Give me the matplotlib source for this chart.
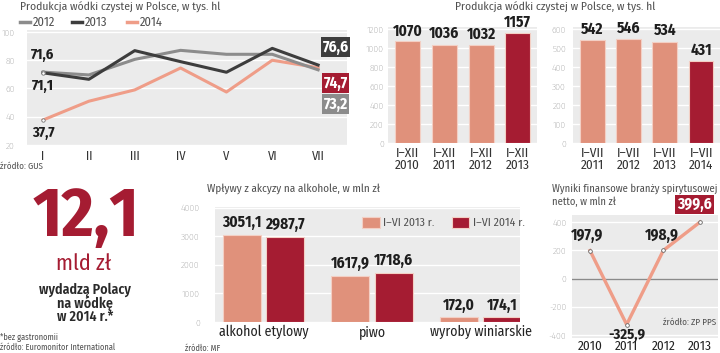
import matplotlib
matplotlib.use("Agg")
import matplotlib.pyplot as plt
from matplotlib.patches import Rectangle

# ---------------- data ----------------
months = ["I", "II", "III", "IV", "V", "VI", "VII"]
prod_2012 = [71.6, 69.6, 80.6, 87.0, 84.2, 84.2, 73.2]
prod_2013 = [71.1, 66.5, 86.8, 79.0, 71.5, 88.4, 76.6]
prod_2014 = [37.7, 51.0, 59.0, 74.5, 57.5, 80.0, 74.7]

annual_labels = ["I–XII\n2010", "I–XII\n2011", "I–XII\n2012", "I–XII\n2013"]
annual_values = [1070, 1036, 1032, 1157]

h1_labels = ["I–VII\n2011", "I–VII\n2012", "I–VII\n2013", "I–VII\n2014"]
h1_values = [542, 546, 534, 431]

excise_cats = ["alkohol etylowy", "piwo", "wyroby winiarskie"]
excise_2013 = [3051.1, 1617.9, 172.0]
excise_2014 = [2987.7, 1718.6, 174.1]

fin_years = ["2010", "2011", "2012", "2013"]
fin_values = [197.9, -325.9, 198.9, 399.6]

# ---------------- style ----------------
W, H = 720, 353
BG = "#ebebeb"
SALMON = "#e0917b"
RED = "#a51c32"
LGRAY = "#8c8c8c"
DGRAY = "#3d3d3d"
LINE_SAL = "#ef9d88"
TXT = "#333333"
TICK = "#666666"
TITLE = "#505050"
NARROW = ["Fira Sans Condensed", "Roboto Condensed", "Saira Condensed", "DejaVu Sans"]
LIGHT = ["Fira Sans Condensed", "Roboto Condensed", "Roboto", "DejaVu Sans"]

fig = plt.figure(figsize=(W / 100, H / 100), dpi=100)
fig.patch.set_facecolor("white")


def ax_px(x0, y0, x1, y1):
    return fig.add_axes([x0 / W, 1 - y1 / H, (x1 - x0) / W, (y1 - y0) / H])


def ftext(x, y, s, **kw):
    return fig.text(x / W, 1 - y / H, s, **kw)


def style_ax(ax):
    ax.set_facecolor(BG)
    for sp in ax.spines.values():
        sp.set_visible(False)
    ax.grid(axis="y", color="white", lw=1.0)
    ax.set_axisbelow(True)
    ax.tick_params(length=0)


def set_light(labels):
    for lab in labels:
        lab.set_family(LIGHT)
        lab.set_fontweight("light")


def nice(v):
    return f"{v:.1f}".replace(".", ",")


BOLD = dict(fontweight="bold", family=NARROW, color="#1e1e1e")
TKW = dict(family=LIGHT, fontweight="normal", color=TITLE)

# ================= top-left line chart =================
ftext(20, 7, "Produkcja wódki czystej w Polsce, w tys. hl", fontsize=8.3,
      va="center", ha="left", **TKW)
for x0, col, lab in [(20, LGRAY, "2012"), (72, DGRAY, "2013"), (127, LINE_SAL, "2014")]:
    fig.add_artist(plt.Line2D([x0 / W, (x0 + 10) / W], [1 - 22 / H, 1 - 22 / H],
                              color=col, lw=2.5, transform=fig.transFigure))
    ftext(x0 + 13, 22, lab, fontsize=9, va="center", ha="left", **TKW)

ax1 = ax_px(27, 30, 347, 145)
style_ax(ax1)
xs = list(range(len(months)))
ax1.plot(xs, prod_2014, color=LINE_SAL, lw=2.2, zorder=3)
ax1.plot(xs, prod_2012, color=LGRAY, lw=2.2, zorder=4)
ax1.plot(xs, prod_2013, color=DGRAY, lw=2.2, zorder=5)
ax1.scatter([0, 0, 0], [prod_2012[0], prod_2013[0], prod_2014[0]], s=6,
            color="white", edgecolor="#777777", lw=0.6, zorder=6)
ax1.set_xlim(-0.35, 6.63)
ax1.set_ylim(20, 101.4)
ax1.set_yticks([20, 40, 60, 80, 100])
ax1.set_xticks(xs)
ax1.set_xticklabels(months, fontsize=9, color=TXT)
ax1.tick_params(axis="y", labelsize=7, labelcolor=TICK, pad=9)
ax1.tick_params(axis="x", pad=4)
set_light(ax1.get_yticklabels())
for lab in ax1.get_xticklabels():
    lab.set_family(LIGHT)
ax1.annotate(nice(prod_2012[0]), (0, prod_2012[0]), xytext=(0, 7), textcoords="offset points",
             ha="center", va="bottom", fontsize=10.5, **BOLD)
ax1.annotate(nice(prod_2013[0]), (0, prod_2013[0]), xytext=(0, -4), textcoords="offset points",
             ha="center", va="top", fontsize=10.5, **BOLD)
ax1.annotate(nice(prod_2014[0]), (0, prod_2014[0]), xytext=(0, -4), textcoords="offset points",
             ha="center", va="top", fontsize=10.5, **BOLD)
for yc, val, col in [(47, prod_2013[-1], DGRAY), (83, prod_2014[-1], RED), (104, prod_2012[-1], LGRAY)]:
    ftext(335.5, yc, nice(val), ha="center", va="center", fontsize=11, fontweight="bold",
          family=NARROW, color="white",
          bbox=dict(boxstyle="square,pad=0.12", fc=col, ec="none"))
ftext(0, 166, "źródło: GUS", fontsize=6.5, va="center", **TKW)

# ================= top-middle/right bar charts =================
ftext(555, 7, "Produkcja wódki czystej w Polsce, w tys. hl", fontsize=8.3,
      va="center", ha="center", **TKW)


def bar_chart(rect, labels, values, ylim, yticks, pad):
    ax = ax_px(*rect)
    style_ax(ax)
    x = list(range(len(values)))
    colors = [SALMON] * (len(values) - 1) + [RED]
    ax.bar(x, values, width=0.68, color=colors, edgecolor="#f3cfc4", lw=0.8, zorder=3)
    for xi, v in zip(x, values):
        ax.annotate(f"{v}", (xi, v), xytext=(0, 2), textcoords="offset points",
                    ha="center", va="bottom", fontsize=11, annotation_clip=False, **BOLD)
    ax.set_xlim(-0.53, len(values) - 0.48)
    ax.set_ylim(*ylim)
    ax.set_yticks(yticks)
    ax.set_xticks(x)
    ax.set_xticklabels(labels, fontsize=9.5, color=TXT, linespacing=0.95)
    ax.tick_params(axis="y", labelsize=7, labelcolor=TICK, pad=pad)
    ax.tick_params(axis="x", pad=3)
    set_light(ax.get_yticklabels())
    for lab in ax.get_xticklabels():
        lab.set_family(LIGHT)
    return ax


bar_chart((388, 27, 537, 143), annual_labels, annual_values, (0, 1221),
          [0, 200, 400, 600, 800, 1000, 1200], 3)
bar_chart((573, 27, 720, 143), h1_labels, h1_values, (0, 610.5),
          [0, 100, 200, 300, 400, 500, 600], 5)

# ================= bottom-left big number =================
ftext(86, 218, "12,1", ha="center", va="center", fontsize=50, fontweight="bold",
      family=NARROW, color=RED)
ftext(84, 264, "mld zł", ha="center", va="center", fontsize=16, fontweight="normal",
      family=LIGHT, color=RED)
ftext(85, 303, "wydadzą Polacy\nna wódkę\nw 2014 r.*", ha="center", va="center",
      multialignment="center", linespacing=0.93, fontsize=10, fontweight="semibold",
      family=NARROW, color="#2a2a2a")
ftext(0, 338, "*bez gastronomii", fontsize=6, va="center", **TKW)
ftext(0, 347, "źródło: Euromonitor International", fontsize=6, va="center", **TKW)

# ================= bottom-middle excise bars =================
ftext(207, 189, "Wpływy z akcyzy na alkohole, w mln zł", fontsize=8, va="center",
      ha="left", **TKW)
ax3 = ax_px(215, 207, 520, 322)
style_ax(ax3)
g = list(range(len(excise_cats)))
off = 0.2
ax3.bar([i - off for i in g], excise_2013, width=0.35, color=SALMON, edgecolor="#f3cfc4",
        lw=0.8, zorder=3)
ax3.bar([i + off for i in g], excise_2014, width=0.35, color=RED, edgecolor="#f3cfc4",
        lw=0.8, zorder=3)
for i in g:
    for dx, v in [(-off, excise_2013[i]), (off, excise_2014[i])]:
        ax3.annotate(nice(v), (i + dx, v), xytext=(0, 3), textcoords="offset points",
                     ha="center", va="bottom", fontsize=11, **BOLD)
ax3.set_xlim(-0.447, 2.364)
ax3.set_ylim(0, 4020)
ax3.set_yticks([0, 1000, 2000, 3000, 4000])
ax3.set_xticks(g)
ax3.set_xticklabels(excise_cats, fontsize=10, color="#222222")
ax3.tick_params(axis="y", labelsize=7, labelcolor=TICK, pad=11)
ax3.tick_params(axis="x", pad=2)
set_light(ax3.get_yticklabels())
for lab in ax3.get_xticklabels():
    lab.set_family(LIGHT)
fig.add_artist(Rectangle((362 / W, 1 - 228 / H), 18 / W, 11 / H, transform=fig.transFigure,
                         fc=SALMON, ec="#f3cfc4", lw=0.8))
ftext(383, 222.5, "I–VI 2013 r.", fontsize=8.5, va="center", **TKW)
fig.add_artist(Rectangle((452 / W, 1 - 228 / H), 17 / W, 11 / H, transform=fig.transFigure,
                         fc=RED, ec="#f3cfc4", lw=0.8))
ftext(473, 222.5, "I–VI 2014 r.", fontsize=8.5, va="center", **TKW)
ftext(185, 348, "źródło: MF", fontsize=6, va="center", **TKW)

# ================= bottom-right financial results =================
ftext(552, 189, "Wyniki finansowe branży spirytusowej", fontsize=7.6, va="center",
      ha="left", **TKW)
ftext(552, 202, "netto, w mln zł", fontsize=7.6, va="center", ha="left", **TKW)
ax4 = ax_px(572, 215, 718, 338)
style_ax(ax4)
xf = list(range(len(fin_years)))
ax4.axhline(0, color="#8a8a8a", lw=1.0, zorder=2)
ax4.plot(xf, fin_values, color=LINE_SAL, lw=2.4, zorder=3)
ax4.scatter(xf, fin_values, s=7, color="white", edgecolor="#666666", lw=0.6, zorder=4)
ax4.set_xlim(-0.49, 3.49)
ax4.set_ylim(-421, 449.6)
ax4.set_yticks([-400, -200, 0, 200, 400])
ax4.set_yticklabels(["-400", "-200", "0", "200", "400"])
ax4.set_xticks(xf)
ax4.set_xticklabels(fin_years, fontsize=9.5, color="#222222")
ax4.tick_params(axis="y", labelsize=7, labelcolor=TICK, pad=4)
ax4.tick_params(axis="x", pad=1.5)
set_light(ax4.get_yticklabels())
for lab in ax4.get_xticklabels():
    lab.set_family(LIGHT)
ax4.annotate(nice(fin_values[0]), (0, fin_values[0]), xytext=(-2, 5), textcoords="offset points",
             ha="center", va="bottom", fontsize=11, **BOLD)
ax4.annotate(nice(fin_values[1]), (1, fin_values[1]), xytext=(0, -2), textcoords="offset points",
             ha="center", va="top", fontsize=10.5, annotation_clip=False, **BOLD)
ax4.annotate(nice(fin_values[2]), (2, fin_values[2]), xytext=(-1, 5), textcoords="offset points",
             ha="center", va="bottom", fontsize=11, **BOLD)
ax4.annotate(nice(fin_values[3]), (3, fin_values[3]), xytext=(-4, 7), textcoords="offset points",
             ha="center", va="bottom", fontsize=11, fontweight="bold", family=NARROW,
             color="white", annotation_clip=False,
             bbox=dict(boxstyle="square,pad=0.12", fc=RED, ec="none"))
ftext(663, 322, "źródło: ZP PPS", fontsize=6.5, va="center", **TKW)

fig.savefig("out.png", dpi=100)
